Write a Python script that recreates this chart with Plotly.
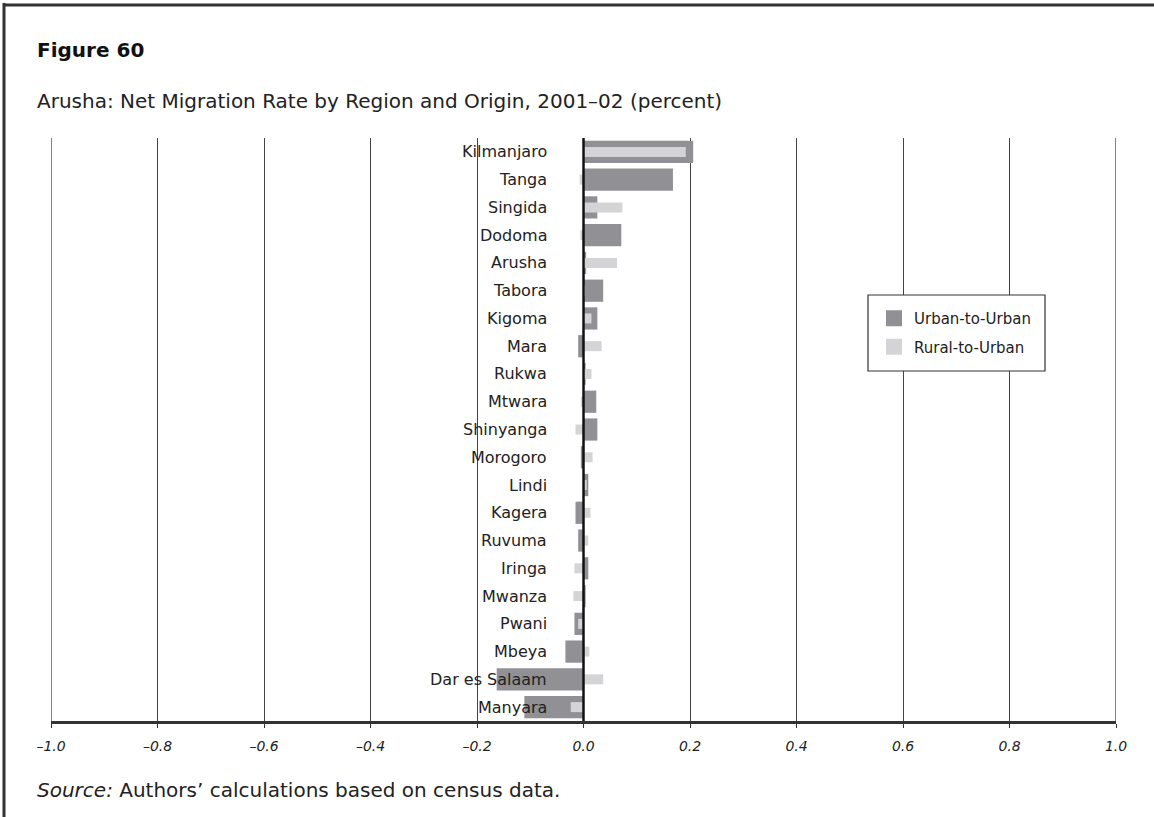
import plotly.graph_objects as go

# Regions of origin, listed top to bottom
regions = ["Kilmanjaro", "Tanga", "Singida", "Dodoma", "Arusha", "Tabora", "Kigoma",
           "Mara", "Rukwa", "Mtwara", "Shinyanga", "Morogoro", "Lindi", "Kagera",
           "Ruvuma", "Iringa", "Mwanza", "Pwani", "Mbeya", "Dar es Salaam", "Manyara"]

# Net migration rate (percent)
urban_to_urban = [0.206, 0.168, 0.026, 0.071, 0.005, 0.037, 0.026,
                  -0.010, 0.004, 0.024, 0.026, -0.005, 0.009, -0.015,
                  -0.010, 0.009, 0.004, -0.017, -0.034, -0.163, -0.111]
rural_to_urban = [0.192, -0.007, 0.073, -0.006, 0.063, 0.002, 0.015,
                  0.034, 0.015, -0.005, -0.015, 0.017, 0.006, 0.013,
                  0.009, -0.017, -0.019, -0.010, 0.011, 0.037, -0.024]

x_ticks = [-1.0, -0.8, -0.6, -0.4, -0.2, 0.0, 0.2, 0.4, 0.6, 0.8, 1.0]
x_tick_text = ["\u20131.0", "\u20130.8", "\u20130.6", "\u20130.4", "\u20130.2",
               "0.0", "0.2", "0.4", "0.6", "0.8", "1.0"]

URBAN_COLOR = "#909095"
RURAL_COLOR = "#d4d4d6"
FONT = "DejaVu Sans"

fig = go.Figure()
fig.add_trace(go.Bar(y=regions, x=urban_to_urban, orientation="h", width=0.8,
                     marker=dict(color=URBAN_COLOR, line=dict(width=0)),
                     name="Urban-to-Urban", showlegend=False))
fig.add_trace(go.Bar(y=regions, x=rural_to_urban, orientation="h", width=0.36,
                     marker=dict(color=RURAL_COLOR, line=dict(width=0)),
                     name="Rural-to-Urban", showlegend=False))

# Legend entries with larger square swatches
for name, color in [("Urban-to-Urban", URBAN_COLOR), ("Rural-to-Urban", RURAL_COLOR)]:
    fig.add_trace(go.Scatter(x=[None], y=[None], mode="markers", name=name,
                             legendgroup=name,
                             marker=dict(symbol="square", size=19, color=color)))

# Region labels placed just left of the zero line
for r in regions:
    fig.add_annotation(x=0, y=r, xref="x", yref="y", text=r, showarrow=False,
                       xanchor="right", xshift=-35, font=dict(family=FONT, size=16, color="#222"))

L, R, T, B = 51, 1116, 138, 721
W, H = 1154, 817

def px(xp):
    return (xp - L) / (R - L)

def py(yp):
    return (B - yp) / (B - T)

TEXT_X = 35
fig.add_annotation(x=px(TEXT_X), y=py(50), xref="paper", yref="paper", text="<b>Figure 60</b>",
                   showarrow=False, xanchor="left", yanchor="middle",
                   font=dict(family=FONT, size=20, color="#111"))
fig.add_annotation(x=px(TEXT_X), y=py(101), xref="paper", yref="paper",
                   text="Arusha: Net Migration Rate by Region and Origin, 2001\u201302 (percent)",
                   showarrow=False, xanchor="left", yanchor="middle",
                   font=dict(family=FONT, size=20, color="#222"))
fig.add_annotation(x=px(TEXT_X), y=py(790), xref="paper", yref="paper",
                   text="<i>Source:</i> Authors\u2019 calculations based on census data.",
                   showarrow=False, xanchor="left", yanchor="middle",
                   font=dict(family=FONT, size=20, color="#222"))

# Page frame: top and left rules
fig.add_shape(type="line", xref="paper", yref="paper", x0=px(3), x1=px(1160),
              y0=py(5), y1=py(5), line=dict(color="#333", width=3))
fig.add_shape(type="line", xref="paper", yref="paper", x0=px(4), x1=px(4),
              y0=py(3), y1=py(830), line=dict(color="#333", width=3))

# Edge grid lines and zero line drawn over the bars
for xv in (-1.0, 1.0):
    fig.add_shape(type="line", xref="x", yref="paper", x0=xv, x1=xv, y0=0, y1=1,
                  line=dict(color="#444", width=1.3), layer="above")
fig.add_shape(type="line", xref="x", yref="paper", x0=0, x1=0, y0=0, y1=1,
              line=dict(color="#111", width=2.5), layer="above")

# Legend panel (white box masking the grid lines behind it)
fig.add_shape(type="rect", xref="paper", yref="paper",
              x0=px(868), x1=px(1045), y0=py(371), y1=py(295),
              fillcolor="white", line=dict(color="#333", width=1.2), layer="above")

fig.update_layout(
    width=W, height=H,
    margin=dict(l=L, r=W - R, t=T, b=H - B),
    barmode="overlay",
    plot_bgcolor="white", paper_bgcolor="white",
    font=dict(family=FONT, color="#222"),
    legend=dict(x=px(874), y=py(302), xanchor="left", yanchor="top",
                borderwidth=0, bgcolor="rgba(0,0,0,0)",
                font=dict(family=FONT, size=15, color="#222"),
                itemsizing="trace", tracegroupgap=6),
    xaxis=dict(range=[-1.0, 1.0], tickvals=x_ticks, ticktext=x_tick_text,
               showgrid=True, gridcolor="#444", gridwidth=1.3,
               zeroline=False,
               showline=True, linecolor="#333", linewidth=3,
               ticks="outside", ticklen=4, tickcolor="#333",
               ticklabelstandoff=6,
               tickfont=dict(family=FONT, size=14, color="#222", style="italic")),
    yaxis=dict(categoryorder="array", categoryarray=regions,
               showticklabels=False, showgrid=False, zeroline=False, showline=False,
               range=[20.5, -0.5]),
)

fig.write_html("out.html")
